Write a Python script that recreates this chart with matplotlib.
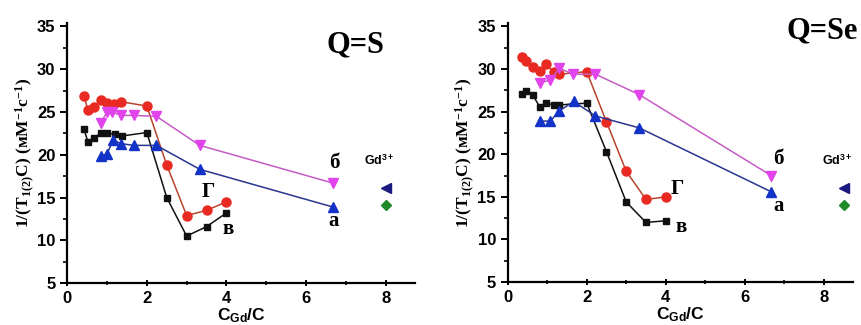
import matplotlib.pyplot as plt
from matplotlib.ticker import MultipleLocator

plt.rcParams['mathtext.fontset'] = 'custom'
plt.rcParams['mathtext.rm'] = 'Liberation Serif:bold'
plt.rcParams['mathtext.it'] = 'Liberation Serif:bold'
plt.rcParams['mathtext.bf'] = 'Liberation Sans:bold'

# --- data, Q=S (left panel) ---
s_v_x = [0.42, 0.52, 0.67, 0.84, 1.0, 1.21, 1.38, 2.0, 2.5, 3.0, 3.5, 4.0]
s_v_y = [23.0, 21.5, 22.0, 22.5, 22.5, 22.4, 22.2, 22.6, 15.0, 10.5, 11.6, 13.2]
s_g_x = [0.42, 0.52, 0.67, 0.84, 1.0, 1.17, 1.36, 2.0, 2.5, 3.0, 3.5, 4.0]
s_g_y = [26.9, 25.2, 25.6, 26.4, 26.0, 25.9, 26.2, 25.7, 18.8, 12.9, 13.5, 14.5]
s_b_x = [0.84, 1.0, 1.13, 1.36, 1.67, 2.24, 3.33, 6.67]
s_b_y = [23.7, 25.0, 25.0, 24.6, 24.6, 24.5, 21.1, 16.7]
s_a_x = [0.84, 1.0, 1.15, 1.36, 1.67, 2.24, 3.33, 6.67]
s_a_y = [19.8, 20.1, 21.7, 21.3, 21.1, 21.1, 18.3, 13.9]
s_gd_x = 8.0

# --- data, Q=Se (right panel) ---
se_v_x = [0.35, 0.47, 0.64, 0.82, 0.98, 1.16, 1.31, 2.0, 2.5, 3.0, 3.5, 4.0]
se_v_y = [27.1, 27.4, 26.9, 25.5, 26.0, 25.8, 25.8, 26.0, 20.3, 14.4, 12.0, 12.2]
se_g_x = [0.37, 0.47, 0.64, 0.81, 0.98, 1.16, 1.31, 2.0, 2.5, 3.0, 3.5, 4.0]
se_g_y = [31.4, 30.9, 30.2, 29.8, 30.6, 29.6, 29.4, 29.7, 23.8, 18.0, 14.7, 15.0]
se_b_x = [0.82, 1.08, 1.31, 1.65, 2.22, 3.33, 6.67]
se_b_y = [28.4, 28.7, 30.1, 29.4, 29.4, 27.0, 17.5]
se_a_x = [0.82, 1.08, 1.31, 1.67, 2.22, 3.33, 6.67]
se_a_y = [23.9, 23.9, 25.1, 26.2, 24.5, 23.1, 15.6]
se_gd_x = 8.5

gd_y = [16.1, 14.1]  # free Gd3+: blue triangle, green diamond

BLACK = '#111111'
RED = '#e82a22'
RED_LINE = '#b8442e'
MAG = '#e044ea'
MAG_LINE = '#c45cc4'
BLUE = '#1232c8'
BLUE_LINE = '#2a3590'

fig = plt.figure(figsize=(8.62, 3.25), dpi=100)
ax1 = fig.add_axes([0.078, 0.129, 0.404, 0.80])
ax2 = fig.add_axes([0.589, 0.132, 0.401, 0.797])


def draw(ax, v, g, b, a, gd_x, title, title_xy, lbl):
    ax.plot(v[0], v[1], color=BLACK, marker='s', ms=5, lw=1.1)
    ax.plot(g[0], g[1], color=RED_LINE, marker='o', ms=6.5, mfc=RED, mec=RED, lw=1.1)
    ax.plot(b[0], b[1], color=MAG_LINE, marker='v', ms=6.5, mfc=MAG, mec=MAG, lw=1.1)
    ax.plot(a[0], a[1], color=BLUE_LINE, marker='^', ms=6.5, mfc=BLUE, mec=BLUE, lw=1.1)
    ax.plot(gd_x, gd_y[0], marker='<', ms=7, color='#1a1a80', ls='none')
    ax.plot(gd_x, gd_y[1], marker='D', ms=5.5, color='#1f8a2a', ls='none')

    ax.set_xlim(0, 8.75)
    ax.set_ylim(5, 35.4)
    ax.xaxis.set_major_locator(MultipleLocator(2))
    ax.xaxis.set_minor_locator(MultipleLocator(1))
    ax.yaxis.set_major_locator(MultipleLocator(5))
    ax.yaxis.set_minor_locator(MultipleLocator(2.5))
    for s in ['top', 'right']:
        ax.spines[s].set_visible(False)
    for s in ['left', 'bottom']:
        ax.spines[s].set_linewidth(1.6)
    ax.tick_params(which='major', length=5, width=1.4, labelsize=12)
    ax.tick_params(which='minor', length=3, width=1.2)
    ax.tick_params(axis='x', which='both', direction='inout')
    for t in ax.get_xticklabels() + ax.get_yticklabels():
        t.set_fontweight('bold')
        t.set_family('Liberation Sans')
    ax.set_xlabel('C$_{\\mathbf{Gd}}$/C', fontsize=12.5, fontweight='bold',
                  family='Liberation Sans', labelpad=0)
    ax.set_ylabel('1/(T$_{\\mathrm{1(2)}}$C) (мМ$^{\\mathrm{-1}}$с$^{\\mathrm{-1}}$)',
                  fontsize=12.5, family='Liberation Serif', fontweight='bold', labelpad=1)

    ax.text(title_xy[0], title_xy[1], title, fontsize=22, fontweight='bold',
            family='Liberation Serif', ha='center', va='center', clip_on=False)
    for txt, x, y in lbl:
        ax.text(x, y, txt, fontsize=15, fontweight='bold', family='Liberation Serif',
                ha='center', va='center')
    ax.text(gd_x - 0.15, 19.3, 'Gd$^{\\mathbf{3+}}$', fontsize=9, fontweight='bold',
            family='Liberation Sans', ha='center', va='center')


draw(ax1, (s_v_x, s_v_y), (s_g_x, s_g_y), (s_b_x, s_b_y), (s_a_x, s_a_y), s_gd_x,
     'Q=S', (7.25, 32.8),
     [('б', 6.7, 19.0), ('а', 6.7, 12.2), ('Г', 3.55, 15.6), ('в', 4.05, 11.3)])
draw(ax2, (se_v_x, se_v_y), (se_g_x, se_g_y), (se_b_x, se_b_y), (se_a_x, se_a_y), se_gd_x,
     'Q=Se', (7.95, 34.5),
     [('б', 6.85, 19.4), ('а', 6.85, 13.9), ('Г', 4.3, 15.9), ('в', 4.4, 11.5)])

fig.savefig('out.png', dpi=100)
